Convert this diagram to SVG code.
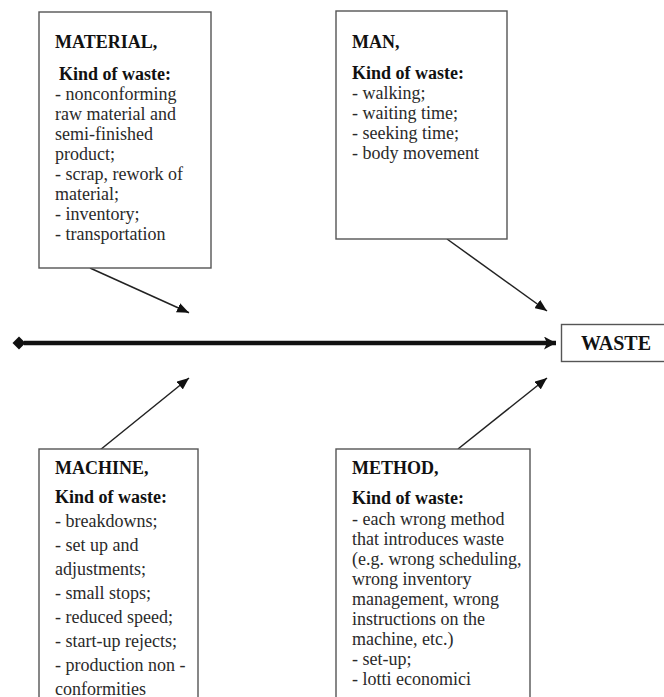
<svg xmlns="http://www.w3.org/2000/svg" width="664" height="697" viewBox="0 0 664 697">
<defs>
<style>
.box{fill:#fff;stroke:#555;stroke-width:1.4}
.t{font-family:"Liberation Serif","Times New Roman",serif;font-size:18px;fill:#2a2a2a}
.b{font-family:"Liberation Serif","Times New Roman",serif;font-size:18px;font-weight:bold;fill:#111}
.w{font-family:"Liberation Serif","Times New Roman",serif;font-size:20px;font-weight:bold;fill:#111}
.c{stroke:#222;stroke-width:1.5;fill:none}
.spine{stroke:#111;stroke-width:4.5;fill:none}
</style>
<marker id="ah" markerWidth="12" markerHeight="10" refX="12" refY="5" orient="auto" markerUnits="userSpaceOnUse">
<path d="M0,0 L12,5 L0,10 Z" fill="#111"/>
</marker>
<marker id="sh" markerWidth="13" markerHeight="13" refX="12" refY="6.5" orient="auto" markerUnits="userSpaceOnUse">
<path d="M0,0 L12,6.5 L0,13 L3,6.5 Z" fill="#111"/>
</marker>
</defs>
<g id="connectors">
<path class="spine" d="M24,343 L556,343" marker-end="url(#sh)"/>
<path d="M19,336.5 L25.5,343 L19,349.5 L12.5,343 Z" fill="#111"/>
<line class="c" x1="90" y1="268" x2="189" y2="312.7" marker-end="url(#ah)"/>
<line class="c" x1="447" y1="239" x2="547" y2="311" marker-end="url(#ah)"/>
<line class="c" x1="100" y1="450" x2="189" y2="378" marker-end="url(#ah)"/>
<line class="c" x1="458" y1="449" x2="547" y2="378" marker-end="url(#ah)"/>
</g>
<g id="material">
<rect class="box" x="39" y="12" width="172" height="256"/>
<text class="b" x="55" y="48">MATERIAL,</text>
<text class="b" x="59" y="80">Kind of waste:</text>
<text class="t" x="55" y="100">- nonconforming</text>
<text class="t" x="55" y="120">raw material and</text>
<text class="t" x="55" y="140">semi-finished</text>
<text class="t" x="55" y="160">product;</text>
<text class="t" x="55" y="180">- scrap, rework of</text>
<text class="t" x="55" y="200">material;</text>
<text class="t" x="55" y="220">- inventory;</text>
<text class="t" x="55" y="240">- transportation</text>
</g>
<g id="man">
<rect class="box" x="336" y="11" width="171" height="228"/>
<text class="b" x="352" y="48">MAN,</text>
<text class="b" x="352" y="79">Kind of waste:</text>
<text class="t" x="352" y="99">- walking;</text>
<text class="t" x="352" y="119">- waiting time;</text>
<text class="t" x="352" y="139">- seeking time;</text>
<text class="t" x="352" y="159">- body movement</text>
</g>
<g id="waste">
<rect class="box" x="561.5" y="324.5" width="110" height="37"/>
<text class="w" x="581" y="350">WASTE</text>
</g>
<g id="machine">
<rect class="box" x="39" y="449" width="159" height="270"/>
<text class="b" x="55" y="474">MACHINE,</text>
<text class="b" x="55" y="503">Kind of waste:</text>
<text class="t" x="55" y="527">- breakdowns;</text>
<text class="t" x="55" y="551">- set up and</text>
<text class="t" x="55" y="575">adjustments;</text>
<text class="t" x="55" y="599">- small stops;</text>
<text class="t" x="55" y="623">- reduced speed;</text>
<text class="t" x="55" y="647">- start-up rejects;</text>
<text class="t" x="55" y="671">- production non -</text>
<text class="t" x="55" y="695">conformities</text>
</g>
<g id="method">
<rect class="box" x="336" y="449" width="194" height="270"/>
<text class="b" x="352" y="474">METHOD,</text>
<text class="b" x="352" y="504">Kind of waste:</text>
<text class="t" x="352" y="525">- each wrong method</text>
<text class="t" x="352" y="545">that introduces waste</text>
<text class="t" x="352" y="565">(e.g. wrong scheduling,</text>
<text class="t" x="352" y="585">wrong inventory</text>
<text class="t" x="352" y="605">management, wrong</text>
<text class="t" x="352" y="625">instructions on the</text>
<text class="t" x="352" y="645">machine, etc.)</text>
<text class="t" x="352" y="665">- set-up;</text>
<text class="t" x="352" y="685">- lotti economici</text>
</g>
</svg>
